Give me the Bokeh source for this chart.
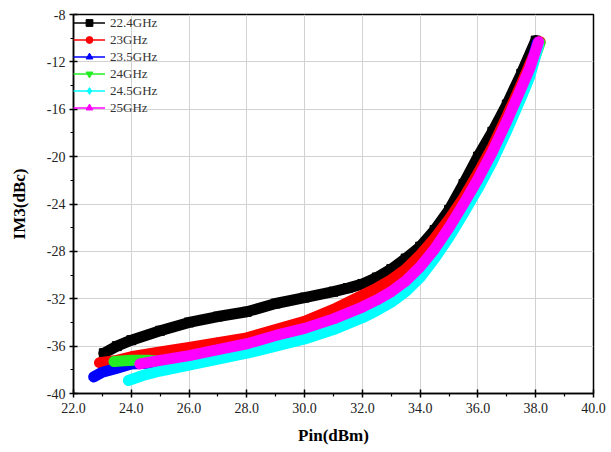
import math
from bokeh.plotting import figure
from bokeh.models import FixedTicker, Legend, LegendItem, Range1d, ColumnDataSource
from bokeh.embed import file_html
from bokeh.resources import INLINE

# ---- data ----
x_ticks = [22, 24, 26, 28, 30, 32, 34, 36, 38, 40]
x_tick_labels = ["22.0", "24.0", "26.0", "28.0", "30.0", "32.0", "34.0", "36.0", "38.0", "40.0"]
x_minor = [23, 25, 27, 29, 31, 33, 35, 37, 39]
y_ticks = [-40, -36, -32, -28, -24, -20, -16, -12, -8]
y_tick_labels = ["-40", "-36", "-32", "-28", "-24", "-20", "-16", "-12", "-8"]
y_minor = [-38, -34, -30, -26, -22, -18, -14, -10]

names = ["22.4GHz", "23GHz", "23.5GHz", "24GHz", "24.5GHz", "25GHz"]
colors = ["#000000", "#ff0000", "#0000ff", "#22ee22", "#00ffff", "#ff00ff"]

pin_224 = [23.05, 23.5, 24, 25, 26, 27, 28, 29, 30, 31, 31.5, 32, 32.5, 33, 33.5, 34, 34.5, 35, 35.5, 36, 36.5, 37, 37.5, 38.0]
im3_224 = [-36.6, -36.0, -35.5, -34.7, -34.0, -33.5, -33.1, -32.4, -31.9, -31.4, -31.1, -30.75, -30.2, -29.5, -28.6, -27.6, -26.2, -24.5, -22.3, -20.0, -17.9, -15.6, -13.0, -10.2]

pin_23 = [22.9, 23.5, 24, 25, 26, 27, 28, 29, 30, 31, 32, 32.5, 33, 33.5, 34, 34.5, 35, 35.5, 36, 36.5, 37, 37.5, 37.9, 38.15]
im3_23 = [-37.4, -37.2, -36.9, -36.5, -36.1, -35.7, -35.3, -34.6, -33.9, -32.9, -31.7, -31.1, -30.4, -29.5, -28.3, -26.9, -25.3, -23.5, -21.4, -19.2, -16.6, -13.9, -11.6, -10.3]

pin_235 = [22.7, 23.0, 23.45, 24, 25, 26, 27, 28, 29, 30, 31, 32, 32.5, 33, 33.5, 34, 34.5, 35, 35.5, 36, 36.5, 37, 37.5, 37.8, 38.05]
im3_235 = [-38.6, -38.2, -37.9, -37.5, -37.4, -37.0, -36.5, -36.0, -35.3, -34.7, -33.9, -32.9, -32.3, -31.6, -30.7, -29.5, -28.0, -26.2, -24.2, -22.1, -19.8, -17.2, -14.4, -12.7, -10.4]

pin_24 = [23.4, 24, 24.6, 25, 26, 27, 28, 29, 30, 31, 32, 32.5, 33, 33.5, 34, 34.5, 35, 35.5, 36, 36.5, 37, 37.5, 37.8, 38.15]
im3_24 = [-37.3, -37.2, -37.2, -37.3, -36.9, -36.4, -35.9, -35.3, -34.8, -34.0, -33.0, -32.4, -31.7, -30.8, -29.6, -28.1, -26.3, -24.3, -22.2, -19.9, -17.3, -14.5, -12.8, -10.4]

pin_245 = [23.9, 24.5, 25, 26, 27, 28, 29, 30, 31, 32, 32.5, 33, 33.5, 34, 34.5, 35, 35.5, 36, 36.5, 37, 37.5, 37.8, 38.1]
im3_245 = [-38.9, -38.4, -38.1, -37.6, -37.1, -36.6, -36.0, -35.4, -34.6, -33.6, -33.0, -32.3, -31.4, -30.2, -28.6, -26.8, -24.8, -22.7, -20.4, -17.8, -15.0, -13.2, -10.6]

pin_25 = [24.3, 25, 26, 27, 28, 29, 30, 31, 32, 32.5, 33, 33.5, 34, 34.5, 35, 35.5, 36, 36.5, 37, 37.5, 37.8, 38.1]
im3_25 = [-37.5, -37.2, -36.8, -36.3, -35.8, -35.1, -34.5, -33.7, -32.7, -32.1, -31.4, -30.5, -29.3, -27.8, -26.0, -24.0, -21.9, -19.6, -17.0, -14.2, -12.5, -10.3]

xs = [pin_224, pin_23, pin_235, pin_24, pin_245, pin_25]
ys = [im3_224, im3_23, im3_235, im3_24, im3_245, im3_25]
markers = ["square", "circle", "triangle", "inverted_triangle", "diamond", "triangle"]
angles = [0, 0, 0, 0, 0, math.pi / 2]

FONT = "Liberation Serif"

p = figure(width=611, height=452, output_backend="svg", toolbar_location=None,
           x_range=Range1d(22, 40), y_range=Range1d(-40, -8),
           min_border_left=73, min_border_top=14, min_border_right=18, min_border_bottom=59)
p.background_fill_color = "white"
p.border_fill_color = "white"
p.outline_line_color = "black"
p.outline_line_width = 1.5

for ax in (p.xaxis[0], p.yaxis[0]):
    ax.axis_line_width = 1.5
    ax.axis_line_color = "black"
    ax.major_tick_line_width = 1.5
    ax.minor_tick_line_width = 1.2
    ax.major_tick_in = 4
    ax.major_tick_out = 4
    ax.minor_tick_in = 0
    ax.minor_tick_out = 3
    ax.major_label_text_font = FONT
    ax.major_label_text_font_size = "14px"
    ax.major_label_text_color = "#222222"
    ax.axis_label_text_font = FONT
    ax.axis_label_text_font_style = "bold"
    ax.axis_label_text_font_size = "17px"
    ax.axis_label_text_color = "black"

p.xaxis[0].ticker = FixedTicker(ticks=x_ticks, minor_ticks=x_minor)
p.xaxis[0].major_label_overrides = {t: l for t, l in zip(x_ticks, x_tick_labels)}
p.xaxis[0].axis_label = "Pin(dBm)"
p.xaxis[0].major_label_standoff = 5
p.xaxis[0].axis_label_standoff = 10

p.yaxis[0].ticker = FixedTicker(ticks=y_ticks, minor_ticks=y_minor)
p.yaxis[0].major_label_overrides = {t: l for t, l in zip(y_ticks, y_tick_labels)}
p.yaxis[0].axis_label = "IM3(dBc)"
p.yaxis[0].major_label_standoff = 4
p.yaxis[0].axis_label_standoff = 15

p.xgrid.ticker = FixedTicker(ticks=x_ticks)
p.ygrid.ticker = FixedTicker(ticks=y_ticks)
p.grid.grid_line_color = "#d2d2d2"
p.grid.grid_line_width = 1

items = []
for x, y, c, m, a, n in zip(xs, ys, colors, markers, angles, names):
    src = ColumnDataSource(dict(x=x, y=y, ang=[a] * len(x)))
    thin = p.line("x", "y", source=src, line_color=c, line_width=1.5)
    p.line("x", "y", source=src, line_color=c, line_width=11, line_join="round", line_cap="round")
    sc = p.scatter("x", "y", source=src, marker=m, size=9, angle="ang", fill_color=c, line_color=c)
    items.append(LegendItem(label=n, renderers=[thin, sc]))

legend = Legend(items=items, location="top_left")
legend.label_text_font = FONT
legend.label_text_font_size = "13px"
legend.label_text_color = "#333333"
legend.label_height = 17
legend.glyph_height = 17
legend.glyph_width = 32
legend.spacing = 0
legend.padding = 2
legend.margin = 0
legend.label_standoff = 5
legend.border_line_color = None
legend.background_fill_alpha = 0
p.add_layout(legend)

open("out.html", "w").write(file_html(p, INLINE))
